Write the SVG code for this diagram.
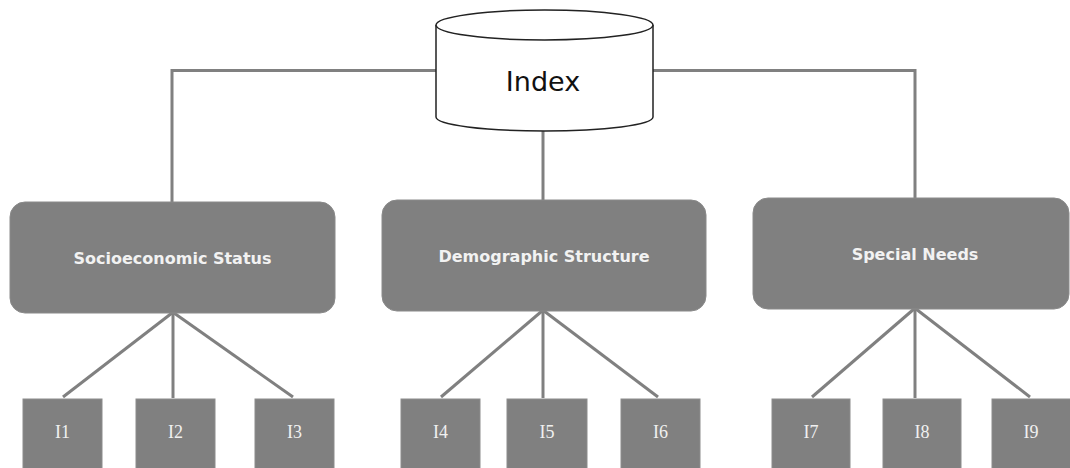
<svg xmlns="http://www.w3.org/2000/svg" width="1070" height="468" viewBox="0 0 1070 468">
<style>
.bg{fill:#ffffff}
.edge{stroke:#808080;stroke-width:3;fill:none;stroke-linecap:butt}
.cat{fill:#808080;stroke:#8a8a8a;stroke-width:1}
.catt{font-family:"DejaVu Sans",Verdana,sans-serif;font-weight:bold;font-size:16px;fill:#f2f2f2;text-anchor:middle}
.leaf{fill:#808080;stroke:#8c8c8c;stroke-width:1}
.leaft{font-family:"Liberation Serif","DejaVu Serif",serif;font-size:18px;fill:#f0f0f0;text-anchor:middle}
.cyl{fill:#ffffff;stroke:#222222;stroke-width:1.5}
.cylt{font-family:"DejaVu Sans",Tahoma,sans-serif;font-size:27px;fill:#111111;text-anchor:middle}
</style>
<rect class="bg" x="0" y="0" width="1070" height="468"/>
<g id="connectors">
<polyline class="edge" points="172,202 172,70.5 915,70.5 915,198"/>
<line class="edge" x1="543" y1="125" x2="543" y2="200"/>
<line class="edge" x1="172" y1="313" x2="63" y2="397"/>
<line class="edge" x1="173" y1="313" x2="173" y2="398"/>
<line class="edge" x1="174" y1="313" x2="293" y2="397"/>
<line class="edge" x1="542" y1="311" x2="441" y2="397"/>
<line class="edge" x1="543" y1="311" x2="543" y2="398"/>
<line class="edge" x1="544" y1="311" x2="658" y2="397"/>
<line class="edge" x1="914" y1="309" x2="812" y2="397"/>
<line class="edge" x1="915" y1="309" x2="915" y2="398"/>
<line class="edge" x1="916" y1="309" x2="1030" y2="397"/>
</g>
<g id="index">
<path class="cyl" d="M436,25 L436,117 A108.5,14 0 0 0 653,117 L653,25 A108.5,15 0 0 0 436,25 Z"/>
<path class="cyl" d="M436,25 A108.5,15 0 0 0 653,25" fill="none"/>
<text class="cylt" x="543" y="91">Index</text>
</g>
<g id="socioeconomic">
<rect class="cat" x="10" y="202" width="325" height="111" rx="15"/>
<text class="catt" x="172.5" y="264">Socioeconomic Status</text>
</g>
<g id="demographic">
<rect class="cat" x="382" y="200" width="324" height="111" rx="15"/>
<text class="catt" x="544" y="262">Demographic Structure</text>
</g>
<g id="special">
<rect class="cat" x="753" y="198" width="316" height="111" rx="15"/>
<text class="catt" x="915" y="260">Special Needs</text>
</g>
<g id="I1"><rect class="leaf" x="23" y="399" width="79" height="75"/><text class="leaft" x="62.5" y="438">I1</text></g>
<g id="I2"><rect class="leaf" x="136" y="399" width="79" height="75"/><text class="leaft" x="175.5" y="438">I2</text></g>
<g id="I3"><rect class="leaf" x="255" y="399" width="79" height="75"/><text class="leaft" x="294.5" y="438">I3</text></g>
<g id="I4"><rect class="leaf" x="401" y="399" width="79" height="75"/><text class="leaft" x="440.5" y="438">I4</text></g>
<g id="I5"><rect class="leaf" x="507" y="399" width="80" height="75"/><text class="leaft" x="547" y="438">I5</text></g>
<g id="I6"><rect class="leaf" x="621" y="399" width="79" height="75"/><text class="leaft" x="660.5" y="438">I6</text></g>
<g id="I7"><rect class="leaf" x="772" y="399" width="78" height="75"/><text class="leaft" x="811" y="438">I7</text></g>
<g id="I8"><rect class="leaf" x="883" y="399" width="78" height="75"/><text class="leaft" x="922" y="438">I8</text></g>
<g id="I9"><rect class="leaf" x="992" y="399" width="80" height="75"/><text class="leaft" x="1031" y="438">I9</text></g>
</svg>
